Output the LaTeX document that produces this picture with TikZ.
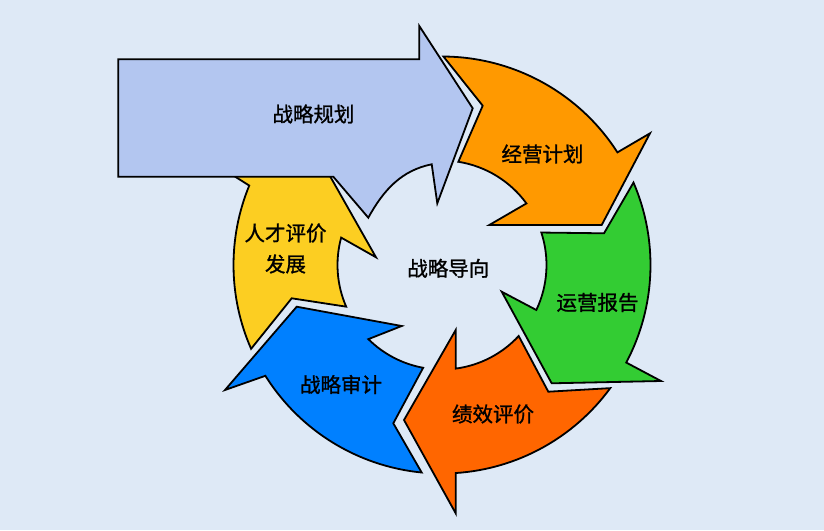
\documentclass[tikz,border=0pt]{standalone}
\usepackage{fontspec}
\newfontfamily\cjk[FakeBold=1.2]{Noto Sans CJK SC}
\usetikzlibrary{calc}
\definecolor{bgc}{RGB}{222,233,246}
\definecolor{clav}{RGB}{179,198,240}
\definecolor{cora}{RGB}{255,153,0}
\definecolor{cgrn}{RGB}{51,204,51}
\definecolor{cred}{RGB}{255,102,0}
\definecolor{cblu}{RGB}{0,128,255}
\definecolor{cyel}{RGB}{252,206,34}
\tikzset{
  piece/.style={draw=black, line width=1.8pt, line join=miter},
  lbl/.style={font=\cjk\fontsize{20.5}{31}\selectfont, text=black, inner sep=0pt}
}
\begin{document}
\begin{tikzpicture}[x=1pt,y=1pt]
\useasboundingbox (0,0) rectangle (824,-530);
\fill[bgc] (0,0) rectangle (824,-530);
\coordinate (C) at (442,-265);
% yellow (under the lavender arrow)
\draw[piece, fill=cyel] ($(C)+(203.7:208.5)$) -- (291.7,-298.3) -- ($(C)+(203.5:104.5)$)
  arc[start angle=203.5, end angle=164.8, radius=104.5] -- (376,-257.3) -- (322,-162) -- (215,-164)
  -- ($(C)+(157.6:208.5)$) arc[start angle=157.6, end angle=203.7, radius=208.5] -- cycle;
% lavender straight arrow
\draw[piece, fill=clav] (118.3,-59.3) -- (419.3,-59.3) -- (419.3,-26) -- (472.7,-108.3) -- (437.3,-203.3)
  -- (431.7,-164.3) .. controls (401.7,-170.3) and (383.7,-189.7) .. (368.3,-217.7)
  -- (333.3,-176.7) -- (118.3,-176.7) -- cycle;
% orange
\draw[piece, fill=cora] ($(C)+(89.6:208.5)$) -- (482.7,-105.7) -- ($(C)+(81:104.5)$)
  arc[start angle=81, end angle=36.1, radius=104.5] -- (489.3,-225) -- (601.7,-225) -- (650,-133.3)
  -- ($(C)+(32.7:208.5)$) arc[start angle=32.7, end angle=89.6, radius=208.5] -- cycle;
% green
\draw[piece, fill=cgrn] ($(C)+(23.3:208.5)$) -- (604,-233.3) -- ($(C)+(18.1:104.5)$)
  arc[start angle=18.1, end angle=-25.5, radius=104.5] -- (501.7,-291.7) -- (551.7,-383.3) -- (661,-381)
  -- ($(C)+(-27.9:208.5)$) arc[start angle=-27.9, end angle=23.3, radius=208.5] -- cycle;
% orange-red
\draw[piece, fill=cred] ($(C)+(-36.2:208.5)$) -- (548.3,-391.7) -- ($(C)+(-42.8:104.5)$)
  arc[start angle=-42.8, end angle=-82.4, radius=104.5] -- (455.7,-330) -- (404,-420) -- (455.7,-513.3)
  -- ($(C)+(-86.2:208.5)$) arc[start angle=-86.2, end angle=-36.2, radius=208.5] -- cycle;
% blue
\draw[piece, fill=cblu] ($(C)+(-95.6:208.5)$) arc[start angle=-95.6, end angle=-147.9, radius=208.5]
  -- (225,-390) -- (296.7,-306.7) -- (401.7,-326) -- ($(C)+(-134.8:104.5)$)
  arc[start angle=-134.8, end angle=-100.4, radius=104.5] -- (393.3,-423.3) -- cycle;
% labels
\node[lbl] (t1) at (313.5,-114) {战略规划};
\node[lbl] (t2) at (542.5,-154) {经营计划};
\node[lbl] (t3) at (597.5,-302.5) {运营报告};
\node[lbl] (t4) at (493,-414) {绩效评价};
\node[lbl] (t5) at (341,-384.5) {战略审计};
\node[lbl, align=center] (t6) at (285.5,-248.5) {人才评价\\发展};
\node[lbl] (t7) at (448.3,-268.3) {战略导向};
\end{tikzpicture}
\end{document}
